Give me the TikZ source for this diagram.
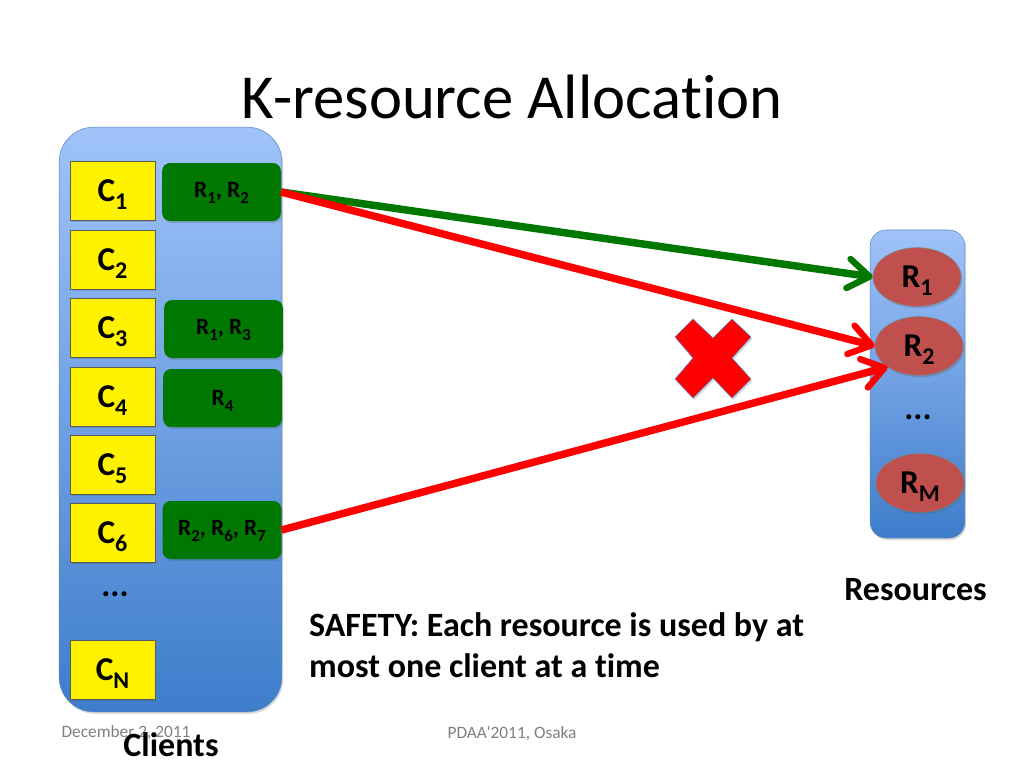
\documentclass[tikz,border=0pt]{standalone}
\usepackage{fontspec}
\setmainfont{Carlito}[Ligatures=NoCommon]
\usepackage{tikz}
\usetikzlibrary{arrows.meta,shapes.geometric,shadows}

\definecolor{paneltop}{RGB}{160,195,250}
\definecolor{panelbot}{RGB}{62,125,203}
\definecolor{panelline}{RGB}{90,135,195}
\definecolor{darkgreen}{RGB}{0,120,0}
\definecolor{resred}{RGB}{192,80,77}
\newcommand{\sub}[1]{\smash{\raisebox{-0.5ex}{\scalebox{0.72}{#1}}}}

\tikzset{
  softshadow/.style={drop shadow={shadow xshift=1pt,shadow yshift=-1.5pt,opacity=0.22,fill=black!70}},
  panel/.style={draw=panelline,top color=paneltop,bottom color=panelbot,softshadow,inner sep=0pt},
  client/.style={draw=gray!70!black,fill=yellow,minimum width=63.5pt,minimum height=44pt,inner sep=0pt,softshadow,
    font=\fontsize{25}{28}\selectfont\bfseries},
  want/.style={draw=none,fill=darkgreen,rounded corners=6pt,minimum width=89pt,minimum height=43.5pt,inner sep=0pt,softshadow,
    font=\fontsize{17.5}{20}\selectfont\bfseries},
  res/.style={ellipse,draw=gray,fill=resred,minimum width=66pt,minimum height=44pt,inner sep=0pt,softshadow,
    font=\fontsize{25}{28}\selectfont\bfseries},
  lbl/.style={font=\fontsize{25.5}{30.75}\selectfont\bfseries},
  foot/.style={text=gray,font=\fontsize{13}{15}\selectfont},
  link/.style={line width=5.6pt,-{Straight Barb[length=16pt,width=22pt,line width=4.8pt,round]}}
}

\begin{document}
\begin{tikzpicture}[x=0.75pt,y=-0.75pt]
  \useasboundingbox (0,0) rectangle (1024,768);
  \node (title) at (512,97) {\fontsize{47}{50}\selectfont K-resource Allocation};

  \node[panel,rounded corners=26pt,minimum width=167pt,minimum height=438.5pt] (clients) at (170.5,419.5) {};
  \node[panel,rounded corners=12pt,minimum width=71pt,minimum height=231pt] (resources) at (917.5,384) {};

  \node[client] (c1) at (112.5,191) {C\sub{1}}; \node[client] (c2) at (112.5,259.5) {C\sub{2}};
  \node[client] (c3) at (112.5,328) {C\sub{3}}; \node[client] (c4) at (112.5,396.5) {C\sub{4}};
  \node[client] (c5) at (112.5,464.5) {C\sub{5}}; \node[client] (c6) at (112.5,532.5) {C\sub{6}};
  \node[lbl] (cdots) at (115,594) {...}; \node[client] (cn) at (112.5,669.5) {C\sub{N}};

  \node[want] (w1) at (221.5,192) {R\sub{1}, R\sub{2}}; \node[want] (w3) at (223.5,329) {R\sub{1}, R\sub{3}};
  \node[want] (w4) at (222.5,398) {R\sub{4}}; \node[want] (w6) at (222,530) {R\sub{2}, R\sub{6}, R\sub{7}};

  \node[res] (r1) at (917,277) {R\sub{1}}; \node[res] (r2) at (919,346) {R\sub{2}};
  \node[lbl] (rdots) at (918,417) {...}; \node[res] (rm) at (920,483) {R\sub{M}};

  \draw[link,draw=darkgreen] (w1.east) to (r1.west);
  \draw[link,draw=red] (w1.east) to (r2.west);
  \draw[link,draw=red] (w6.east) to (r2.south west);

  \draw[draw=panelline,fill=red,softshadow] (693,319) -- (713,338) -- (732,319) -- (751,337) -- (732,358)
    -- (751,379) -- (732,398) -- (713,378) -- (693,398) -- (675,379) -- (693,358) -- (675,337) -- cycle;

  \node[lbl] (resname) at (915.5,590) {Resources};
  \node[lbl,anchor=west,align=left] (safety) at (304.5,645) {SAFETY: Each resource is used by at\\most one client at a time};
  \node[foot] (date) at (126,733) {December 2, 2011};
  \node[foot] (venue) at (512,733) {PDAA'2011, Osaka};
  \node[lbl] (cliname) at (171,745) {Clients};
\end{tikzpicture}
\end{document}
